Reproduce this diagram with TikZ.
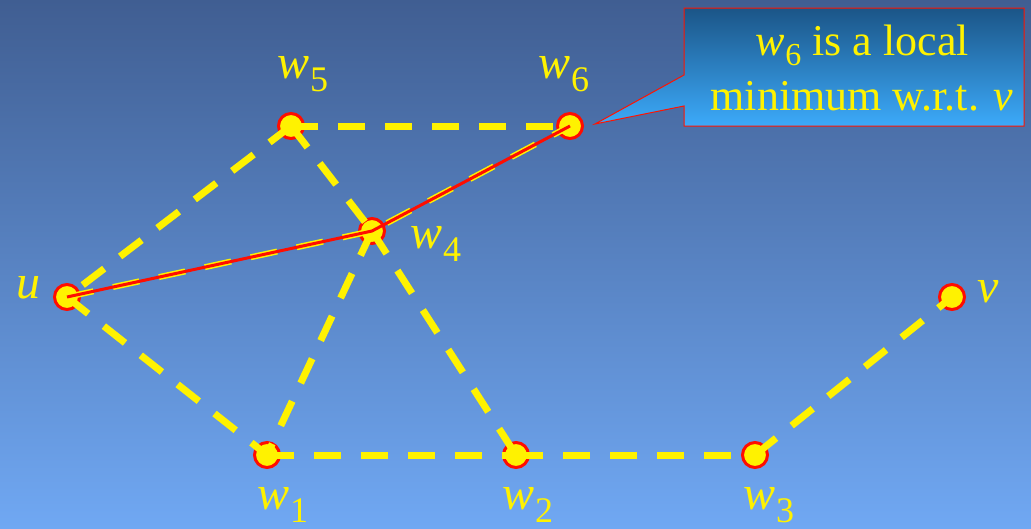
\documentclass[tikz,border=0pt]{standalone}
\usepackage{fontspec}
\setmainfont{Liberation Serif}
\begin{document}
\begin{tikzpicture}[x=1pt,y=-1pt,
  vert/.style={circle,fill=yellow,draw=red!90!orange,line width=3pt,minimum size=25pt,inner sep=0pt},
  edge/.style={yellow,line width=7pt,dash pattern=on 27pt off 20pt},
  pathedge/.style={yellow,line width=6pt,dash pattern=on 27pt off 20pt},
  redline/.style={red!90!orange,line width=3pt},
  lbl/.style={text=yellow,font=\fontsize{48}{55}\selectfont,inner sep=0pt,anchor=base west}]
\newcommand{\wsub}[2]{\textit{#1}\kern1pt\raisebox{-13pt}{\fontsize{36}{40}\selectfont #2}}
\newcommand{\csub}[2]{\textit{#1}\kern1pt\raisebox{-10pt}{\fontsize{32}{36}\selectfont #2}}
\shade[top color={rgb,255:red,64;green,94;blue,146},bottom color={rgb,255:red,112;green,168;blue,243}] (0,0) rectangle (1031,528);
\useasboundingbox (0,0) rectangle (1031,528);
% vertices
\node[vert] (u) at (67,297) {};
\node[vert] (w5) at (291,126) {};
\node[vert] (w6) at (570,126) {};
\node[vert] (w4) at (372,231) {};
\node[vert] (w1) at (267,455) {};
\node[vert] (w2) at (516,455) {};
\node[vert] (w3) at (755,455) {};
\node[vert] (v) at (952,297) {};
% edges
\draw[edge] (w5.center) -- (w6.center);
\draw[edge] (w5.center) -- (u.center);
\draw[edge] (w5.center) -- (w4.center);
\draw[edge] (w4.center) -- (w2.center);
\draw[edge] (w4.center) -- (w1.center);
\draw[edge] (u.center) -- (w1.center);
\draw[edge] (w1.center) -- (w2.center);
\draw[edge] (w2.center) -- (w3.center);
\draw[edge] (w3.center) -- (v.center);
\draw[pathedge] (u.center) -- (w4.center) -- (w6.center);
\draw[redline] (u.center) -- (w4.center) -- (w6.center);
% labels
\node[lbl] (lu) at (16,298) {\textit{u}};
\node[lbl] (lv) at (977,302) {\textit{v}};
\node[lbl] (l5) at (277,78) {\wsub{w}{5}};
\node[lbl] (l6) at (538,78) {\wsub{w}{6}};
\node[lbl] (l4) at (410,248) {\wsub{w}{4}};
\node[lbl] (l1) at (257,509) {\wsub{w}{1}};
\node[lbl] (l2) at (502,509) {\wsub{w}{2}};
\node[lbl] (l3) at (743,509) {\wsub{w}{3}};
% callout
\coordinate (tip) at (595,124);
\shade[top color={rgb,255:red,27;green,85;blue,135},bottom color={rgb,255:red,60;green,170;blue,250}]
  (684,8) -- (1024,8) -- (1024,126) -- (684,126) -- (684,106) -- (tip) -- (684,75) -- cycle;
\draw[red!85!orange,line width=1pt]
  (684,8) -- (1024,8) -- (1024,126) -- (684,126) -- (684,106) -- (tip) -- (684,75) -- cycle;
\node[text=yellow,inner sep=0pt,anchor=base,font=\fontsize{44}{55}\selectfont] (c1) at (862,55) {\csub{w}{6} is a local};
\node[text=yellow,inner sep=0pt,anchor=base,font=\fontsize{44}{55}\selectfont] (c2) at (862,110) {minimum w.r.t. \textit{v}};
\end{tikzpicture}
\end{document}
